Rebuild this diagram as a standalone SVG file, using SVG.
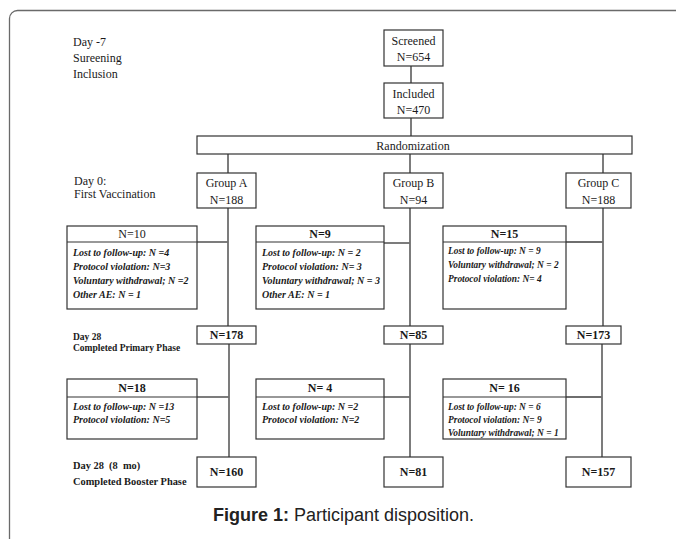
<svg xmlns="http://www.w3.org/2000/svg" width="676" height="539" viewBox="0 0 676 539">
<style>
.frame{fill:#fff;stroke:#6a6a6a;stroke-width:1.3}
.box{fill:#fff;stroke:#333;stroke-width:1.2}
.div{stroke:#333;stroke-width:1.1}
.ln{stroke:#6e6e6e;stroke-width:1.8;fill:none}
.t{font-family:"Liberation Serif","Times New Roman",serif;font-size:12px;fill:#1a1a1a}
.c{text-anchor:middle}
.b{font-weight:bold}
.r{font-family:"Liberation Serif","Times New Roman",serif;font-size:10px;font-weight:bold;font-style:italic;fill:#1a1a1a}
.r2{font-family:"Liberation Serif","Times New Roman",serif;font-size:9.4px;font-weight:bold;font-style:italic;fill:#1a1a1a}
.lab{font-family:"Liberation Serif","Times New Roman",serif;font-weight:bold;fill:#1a1a1a}
.cap{font-family:"Liberation Sans",Arial,sans-serif;font-size:18px;fill:#222}
</style>
<rect class="frame" x="9.5" y="10.5" width="720" height="540" rx="8"/>

<g id="phase-labels">
<text class="t" x="73" y="46">Day -7</text>
<text class="t" x="73" y="62">Sureening</text>
<text class="t" x="73" y="78">Inclusion</text>
<text class="t" x="74" y="185" font-size="11.5">Day 0:</text>
<text class="t" x="74" y="198" font-size="11.5">First Vaccination</text>
<text class="lab" x="73" y="340" font-size="9.5">Day 28</text>
<text class="lab" x="73" y="351" font-size="9.5">Completed Primary Phase</text>
<text class="lab" x="73" y="469" font-size="10.4" xml:space="preserve">Day 28  (8  mo)</text>
<text class="lab" x="73" y="485" font-size="10.4">Completed Booster Phase</text>
</g>

<g id="connectors">
<line class="ln" x1="411" y1="66" x2="411" y2="83"/>
<line class="ln" x1="411" y1="118" x2="411" y2="136"/>
<line class="ln" x1="228" y1="154" x2="228" y2="173"/>
<line class="ln" x1="410" y1="154" x2="410" y2="173"/>
<line class="ln" x1="603" y1="154" x2="603" y2="173"/>
<line class="ln" x1="228" y1="208" x2="228" y2="326"/>
<line class="ln" x1="410" y1="208" x2="410" y2="326"/>
<line class="ln" x1="603" y1="208" x2="603" y2="326"/>
<line class="ln" x1="229" y1="344" x2="229" y2="457"/>
<line class="ln" x1="410" y1="344" x2="410" y2="457"/>
<line class="ln" x1="602" y1="344" x2="602" y2="457"/>
<line class="ln" x1="197" y1="242" x2="228" y2="242"/>
<line class="ln" x1="384" y1="243" x2="410" y2="243"/>
<line class="ln" x1="566" y1="242" x2="603" y2="242"/>
<line class="ln" x1="197" y1="397" x2="229" y2="397"/>
<line class="ln" x1="384" y1="397" x2="410" y2="397"/>
<line class="ln" x1="566" y1="397" x2="602" y2="397"/>
</g>

<g id="screened">
<rect class="box" x="384" y="30" width="59" height="36"/>
<text class="t c" x="413.5" y="45">Screened</text>
<text class="t c" x="413.5" y="61">N=654</text>
</g>
<g id="included">
<rect class="box" x="384" y="83" width="59" height="35"/>
<text class="t c" x="413.5" y="98">Included</text>
<text class="t c" x="413.5" y="114">N=470</text>
</g>
<g id="randomization">
<rect class="box" x="197" y="136" width="435" height="18"/>
<text class="t c" x="413" y="150">Randomization</text>
</g>

<g id="groupA">
<rect class="box" x="197" y="173" width="59" height="35"/>
<text class="t c" x="226.5" y="187">Group A</text>
<text class="t c" x="226.5" y="204">N=188</text>
</g>
<g id="groupB">
<rect class="box" x="384" y="173" width="59" height="35"/>
<text class="t c" x="413.5" y="187">Group B</text>
<text class="t c" x="413.5" y="204">N=94</text>
</g>
<g id="groupC">
<rect class="box" x="566" y="173" width="65" height="35"/>
<text class="t c" x="598.5" y="187">Group C</text>
<text class="t c" x="598.5" y="204">N=188</text>
</g>

<g id="lossA1">
<rect class="box" x="67" y="226" width="130" height="83"/>
<line class="div" x1="67" y1="242" x2="197" y2="242"/>
<text class="t c" x="132" y="238">N=10</text>
<text class="r" x="73" y="256">Lost to follow-up: N =4</text>
<text class="r" x="73" y="270">Protocol violation: N=3</text>
<text class="r" x="73" y="284">Voluntary withdrawal; N =2</text>
<text class="r" x="73" y="298">Other AE: N = 1</text>
</g>
<g id="lossB1">
<rect class="box" x="256" y="226" width="128" height="83"/>
<line class="div" x1="256" y1="242" x2="384" y2="242"/>
<text class="t c b" x="320" y="238">N=9</text>
<text class="r" x="262" y="256">Lost to follow-up: N = 2</text>
<text class="r" x="262" y="270">Protocol violation: N= 3</text>
<text class="r" x="262" y="284">Voluntary withdrawal; N = 3</text>
<text class="r" x="262" y="298">Other AE: N = 1</text>
</g>
<g id="lossC1">
<rect class="box" x="443" y="226" width="123" height="83"/>
<line class="div" x1="443" y1="242" x2="566" y2="242"/>
<text class="t c b" x="504.5" y="238">N=15</text>
<text class="r2" x="448" y="254">Lost to follow-up: N = 9</text>
<text class="r2" x="448" y="268">Voluntary withdrawal; N = 2</text>
<text class="r2" x="448" y="282">Protocol violation: N= 4</text>
</g>

<g id="primaryA">
<rect class="box" x="197" y="326" width="59" height="18"/>
<text class="t c b" x="226.5" y="339">N=178</text>
</g>
<g id="primaryB">
<rect class="box" x="384" y="326" width="59" height="18"/>
<text class="t c b" x="413.5" y="339">N=85</text>
</g>
<g id="primaryC">
<rect class="box" x="566" y="326" width="55" height="18"/>
<text class="t c b" x="593.5" y="339">N=173</text>
</g>

<g id="lossA2">
<rect class="box" x="67" y="379" width="130" height="60"/>
<line class="div" x1="67" y1="397" x2="197" y2="397"/>
<text class="t c b" x="132" y="392">N=18</text>
<text class="r" x="73" y="410">Lost to follow-up: N =13</text>
<text class="r" x="73" y="423">Protocol violation: N=5</text>
</g>
<g id="lossB2">
<rect class="box" x="256" y="379" width="128" height="60"/>
<line class="div" x1="256" y1="397" x2="384" y2="397"/>
<text class="t c b" x="320" y="392" xml:space="preserve">N= 4</text>
<text class="r" x="262" y="410">Lost to follow-up: N =2</text>
<text class="r" x="262" y="423">Protocol violation: N=2</text>
</g>
<g id="lossC2">
<rect class="box" x="443" y="379" width="123" height="60"/>
<line class="div" x1="443" y1="397" x2="566" y2="397"/>
<text class="t c b" x="504.5" y="392" xml:space="preserve">N= 16</text>
<text class="r2" x="448" y="410">Lost to follow-up: N = 6</text>
<text class="r2" x="448" y="423">Protocol violation: N= 9</text>
<text class="r2" x="448" y="436">Voluntary withdrawal; N = 1</text>
</g>

<g id="boosterA">
<rect class="box" x="197" y="457" width="59" height="30"/>
<text class="t c b" x="226.5" y="476">N=160</text>
</g>
<g id="boosterB">
<rect class="box" x="384" y="457" width="59" height="30"/>
<text class="t c b" x="413.5" y="476">N=81</text>
</g>
<g id="boosterC">
<rect class="box" x="566" y="457" width="65" height="30"/>
<text class="t c b" x="598.5" y="476">N=157</text>
</g>

<text class="cap" x="213" y="521"><tspan font-weight="bold">Figure 1:</tspan> Participant disposition.</text>
</svg>
